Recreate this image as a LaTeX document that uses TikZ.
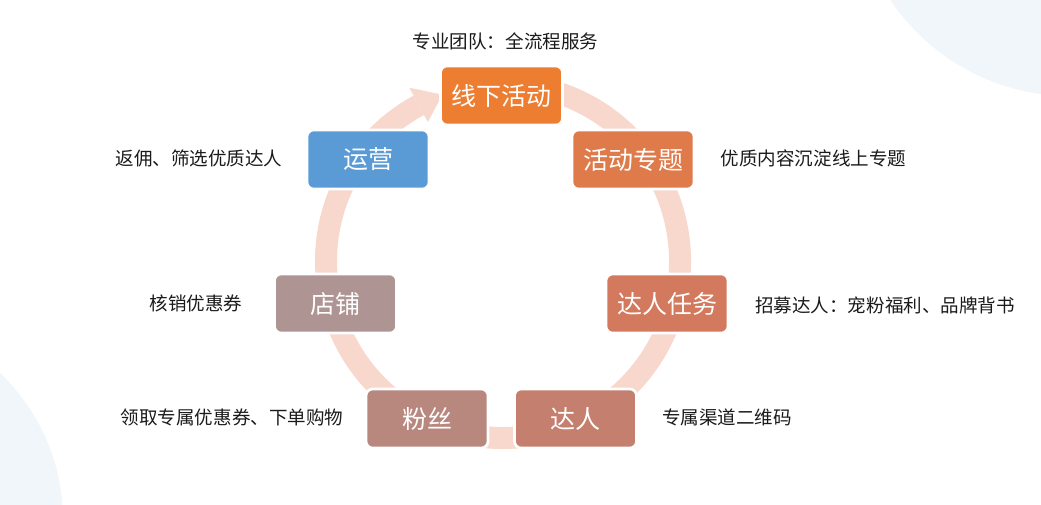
\documentclass[tikz,border=0pt]{standalone}
\usepackage{fontspec}
\setmainfont{Noto Sans CJK SC}
\usetikzlibrary{calc}
\definecolor{bgc}{RGB}{241,246,250}
\definecolor{ringc}{RGB}{248,215,204}
\definecolor{cA}{RGB}{237,125,49}
\definecolor{cB}{RGB}{91,155,213}
\definecolor{cC}{RGB}{223,122,74}
\definecolor{cD}{RGB}{211,122,94}
\definecolor{cE}{RGB}{197,127,110}
\definecolor{cF}{RGB}{184,135,126}
\definecolor{cG}{RGB}{174,148,146}
\definecolor{txt}{RGB}{26,26,26}
\tikzset{
  box/.style={rounded corners=5pt, minimum width=91.5pt, minimum height=44.25pt,
    draw=white, line width=2pt, text=white, inner sep=0pt,
    font=\fontsize{18.75}{22}\selectfont},
  lbl/.style={text=txt, inner sep=0pt, font=\fontsize{13.9}{16}\selectfont}
}
\begin{document}
\begin{tikzpicture}[x=0.75pt,y=0.75pt]
\useasboundingbox (0,0) rectangle (1041,504);
\begin{scope}
\clip (0,0) rectangle (1041,504);
\fill[bgc] (1070,624) circle (216);
\fill[bgc] (-140,-16) circle (203);
\end{scope}
% ring
\coordinate (C) at (503,243);
\draw[ringc, line width=16.5pt] ($(C)+(100:177)$) arc[start angle=100, end angle=-241.6, radius=177];
\fill[ringc] ($(C)+(118.4:197)$) -- ($(C)+(110:177)$) -- ($(C)+(118.4:158)$) -- cycle;
% boxes
\node[box, fill=cA] (xx) at (501.5,408.5) {线下活动};
\node[box, fill=cB] (yy) at (368,344.5) {运营};
\node[box, fill=cC] (hd) at (633,344.5) {活动专题};
\node[box, fill=cG] (dp) at (335.5,200.5) {店铺};
\node[box, fill=cD] (rw) at (667,200.5) {达人任务};
\node[box, fill=cF] (fs) at (427,85.5) {粉丝};
\node[box, fill=cE] (dr) at (575.5,85.5) {达人};
% labels
\node[lbl] (l1) at (505.5,463) {专业团队：全流程服务};
\node[lbl] (l2) at (199,346) {返佣、筛选优质达人};
\node[lbl] (l3) at (813.5,346) {优质内容沉淀线上专题};
\node[lbl] (l4) at (196,201) {核销优惠券};
\node[lbl] (l5) at (885,199) {招募达人：宠粉福利、品牌背书};
\node[lbl] (l6) at (232,87) {领取专属优惠券、下单购物};
\node[lbl] (l7) at (727,87) {专属渠道二维码};
\end{tikzpicture}
\end{document}
